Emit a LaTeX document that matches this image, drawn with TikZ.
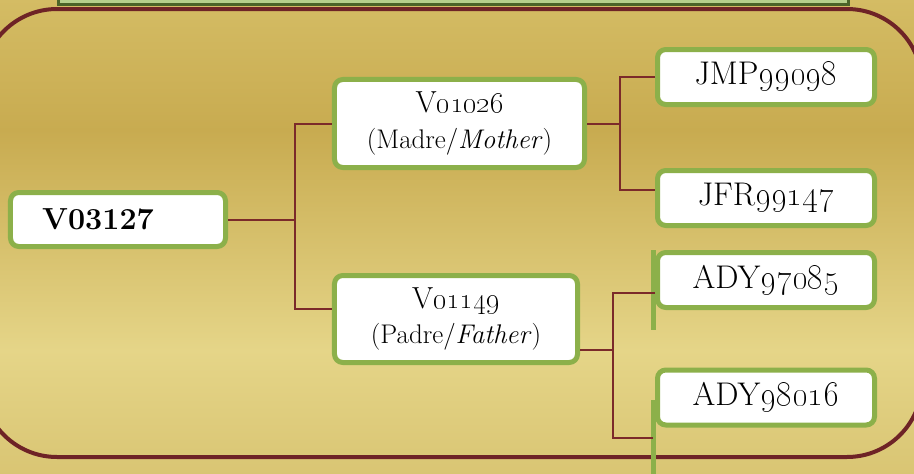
\documentclass[tikz,border=0pt]{standalone}
\definecolor{pedGoldTop}{HTML}{D4BC64}
\definecolor{pedGoldMid}{HTML}{C8AB50}
\definecolor{pedGoldLight}{HTML}{E5D588}
\definecolor{pedGoldLow}{HTML}{D9C573}
\definecolor{pedFrame}{HTML}{6E2326}
\definecolor{pedLink}{HTML}{7B2A2A}
\definecolor{pedLeaf}{HTML}{8CB04A}
\definecolor{pedBanner}{HTML}{B6D08C}
\definecolor{pedBannerLine}{HTML}{4B6428}
\newcommand{\idline}[1]{{\fontsize{26}{30}\selectfont #1}}
\usepackage{tikz}
\usetikzlibrary{
	positioning,
	calc
}

\begin{document}
\begin{tikzpicture}[x=0.03cm,y=-0.03cm,
		idbox/.style={draw=pedLeaf, fill=white, line width=0.15cm, rounded corners=0.25cm,
			font=\fontsize{23}{30}\selectfont, align=center, inner sep=0pt},
		leafbox/.style={idbox, minimum width=6.51cm, minimum height=1.65cm,
			font=\fontsize{28}{30}\selectfont},
		parentbox/.style={idbox, minimum height=2.64cm},
		link/.style={draw=pedLink, line width=0.06cm},
		stub/.style={draw=pedLeaf, line width=0.15cm}]
		\useasboundingbox (0,0) rectangle (914,474);
		\clip (0,0) rectangle (914,474);
		% background
		\shade[top color=pedGoldTop, bottom color=pedGoldMid] (0,-1) rectangle (914,131);
		\shade[top color=pedGoldMid, bottom color=pedGoldLight] (0,130) rectangle (914,351);
		\shade[top color=pedGoldLight, bottom color=pedGoldLow] (0,350) rectangle (914,475);
		\draw[pedFrame, line width=0.12cm, rounded corners=2.25cm] (-18,9) rectangle (922,457);
		\draw[fill=pedBanner, draw=pedBannerLine, line width=0.09cm] (58,-20) rectangle (848,4);

		% boxes
		\node[idbox, minimum height=1.62cm, text width=4.55cm, inner xsep=0.95cm, align=left,
			font=\fontsize{26}{30}\selectfont\bfseries] (root) at (118,219.5) {V03127};
		\node[parentbox, minimum width=7.5cm] (madre) at (459.5,123.5)
			{\idline{V\oldstylenums{01026}}\\(Madre/\textit{Mother})};
		\node[parentbox, minimum width=7.29cm, minimum height=2.61cm] (padre) at (456,319)
			{\idline{V\oldstylenums{01149}}\\(Padre/\textit{Father})};
		\node[leafbox] (jmp) at (766,77) {JMP\oldstylenums{99098}};
		\node[leafbox] (jfr) at (766,198) {JFR\oldstylenums{99147}};
		\node[leafbox] (adyA) at (766,280) {ADY\oldstylenums{97085}};
		\node[leafbox] (adyB) at (766,397.5) {ADY\oldstylenums{98016}};

		% green stubs
		\draw[stub] ([xshift=-0.06cm]adyA.north west) -- ++(0,80);
		\draw[stub] ([xshift=-0.06cm,yshift=-0.08cm]adyB.west) -- ++(0,80);

		% links
		\coordinate (padreIn) at ([yshift=0.3cm]padre.west);
		\coordinate (padreOut) at ([yshift=-0.93cm]padre.east);
		\coordinate (jfrIn) at ([yshift=0.24cm]jfr.west);
		\coordinate (adyAIn) at ([yshift=-0.39cm]adyA.west);
		\coordinate (adyBIn) at ([xshift=-0.06cm,yshift=-1.215cm]adyB.west);
		\draw[link] (root.east) -- ++(67,0) coordinate (forkA);
		\draw[link] (madre.west) -| (forkA) |- (padreIn);
		\draw[link] (madre.east) -- ++(33,0) coordinate (forkB);
		\draw[link] (jmp.west) -| (forkB) |- (jfrIn);
		\draw[link] (padreOut) -- ++(33,0) coordinate (forkC);
		\draw[link] (adyAIn) -| (forkC) |- (adyBIn);
	\end{tikzpicture}
\end{document}
